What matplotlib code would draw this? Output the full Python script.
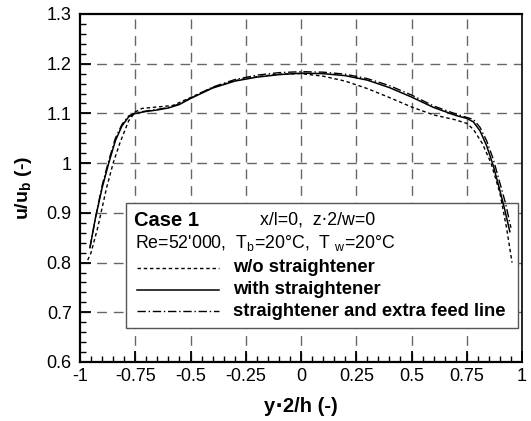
import matplotlib
matplotlib.use("Agg")
import matplotlib.pyplot as plt
from matplotlib.patches import Rectangle
from matplotlib.lines import Line2D
from matplotlib.ticker import MultipleLocator

plt.rcParams["font.family"] = ["Liberation Sans", "DejaVu Sans"]
plt.rcParams["mathtext.fontset"] = "custom"
plt.rcParams["mathtext.rm"] = "Liberation Sans"
plt.rcParams["mathtext.bf"] = "Liberation Sans:bold"

# w/o straightener (dotted)
x_wo = [-0.965, -0.95, -0.92, -0.88, -0.85, -0.82, -0.78, -0.75, -0.72, -0.65,
        -0.58, -0.5, -0.4, -0.3, -0.2, -0.1, 0.0, 0.1, 0.2, 0.3, 0.4, 0.5, 0.6,
        0.7, 0.75, 0.78, 0.82, 0.86, 0.9, 0.93, 0.955]
y_wo = [0.805, 0.82, 0.87, 0.95, 1.0, 1.04, 1.085, 1.103, 1.11, 1.113,
        1.116, 1.132, 1.152, 1.166, 1.174, 1.179, 1.180, 1.175, 1.165, 1.150,
        1.132, 1.113, 1.097, 1.087, 1.080, 1.068, 1.04, 1.0, 0.94, 0.87, 0.80]

# with straightener (solid)
x_with = [-0.955, -0.93, -0.9, -0.87, -0.84, -0.81, -0.78, -0.75, -0.7, -0.65,
          -0.6, -0.55, -0.5, -0.4, -0.3, -0.2, -0.1, 0.0, 0.1, 0.2, 0.3, 0.4,
          0.5, 0.6, 0.7, 0.75, 0.78, 0.81, 0.84, 0.87, 0.9, 0.92, 0.945]
y_with = [0.83, 0.89, 0.95, 1.0, 1.045, 1.075, 1.093, 1.100, 1.104, 1.107,
          1.111, 1.118, 1.130, 1.151, 1.165, 1.173, 1.178, 1.181, 1.180, 1.176,
          1.167, 1.152, 1.133, 1.112, 1.096, 1.090, 1.083, 1.065, 1.035, 0.995,
          0.945, 0.91, 0.862]

# straightener and extra feed line (dash-dot)
x_feed = [-0.955, -0.93, -0.9, -0.87, -0.84, -0.81, -0.78, -0.75, -0.7, -0.65,
          -0.6, -0.55, -0.5, -0.4, -0.3, -0.2, -0.1, 0.0, 0.1, 0.2, 0.3, 0.4,
          0.5, 0.6, 0.7, 0.75, 0.78, 0.81, 0.84, 0.87, 0.9, 0.925, 0.95]
y_feed = [0.83, 0.89, 0.955, 1.005, 1.05, 1.078, 1.095, 1.101, 1.105, 1.108,
          1.112, 1.119, 1.131, 1.153, 1.168, 1.177, 1.182, 1.184, 1.183, 1.179,
          1.170, 1.156, 1.137, 1.115, 1.099, 1.092, 1.088, 1.072, 1.045, 1.008,
          0.96, 0.92, 0.87]

labels = ["w/o straightener", "with straightener",
          "straightener and extra feed line"]

fig = plt.figure(figsize=(5.31, 4.21), dpi=100)
ax = fig.add_axes([80 / 531, 1 - 362 / 421, 442 / 531, 348 / 421])

ax.set_xlim(-1, 1)
ax.set_ylim(0.6, 1.3)

# grid
gkw = dict(color="#666666", lw=1.0, dashes=(7, 5), zorder=1)
for gx in [-0.75, -0.5, -0.25, 0, 0.25, 0.5, 0.75]:
    ax.axvline(gx, **gkw)
for gy in [0.7, 0.8, 0.9, 1.0, 1.1, 1.2]:
    ax.axhline(gy, **gkw)

# legend box
box = Rectangle((0.105, 0.097), 0.885, 0.36, transform=ax.transAxes,
                facecolor="white", edgecolor="#555555", lw=1.0, zorder=2)
ax.add_patch(box)

styles = [dict(color="black", lw=1.0, dashes=(2.5, 2)),
          dict(color="black", lw=1.1, ls="-"),
          dict(color="black", lw=1.0, dashes=(6, 2, 1, 2))]

ax.plot(x_wo, y_wo, zorder=3, **styles[0])
ax.plot(x_with, y_with, zorder=3, **styles[1])
ax.plot(x_feed, y_feed, zorder=3, **styles[2])


# legend content (axes coords)
def ax_x(px):
    return (px - 80) / 442


def ax_y(py):
    return (362 - py) / 348


ax.text(ax_x(134), ax_y(221), "Case 1", transform=ax.transAxes,
        fontsize=14.5, fontweight="bold", va="center", zorder=4)
ax.text(ax_x(260), ax_y(220), "x/l=0,  z\u22c52/w=0", transform=ax.transAxes,
        fontsize=12.8, va="center", zorder=4)
ax.text(ax_x(135), ax_y(243),
        r"Re=52'000,  T$_\mathregular{b}$=20°C,  T $_\mathregular{w}$=20°C",
        transform=ax.transAxes, fontsize=12.8, va="center", zorder=4)
for i, py in enumerate([268, 289.5, 311]):
    ax.add_line(Line2D([ax_x(137), ax_x(219)], [ax_y(py), ax_y(py)],
                       transform=ax.transAxes, zorder=4, **styles[i]))
    ax.text(ax_x(233), ax_y(py), labels[i], transform=ax.transAxes,
            fontsize=13.2, fontweight="bold", va="center", zorder=4)

# ticks
ax.xaxis.set_minor_locator(MultipleLocator(0.05))
ax.yaxis.set_minor_locator(MultipleLocator(0.02))
ax.tick_params(which="major", direction="in", length=8, width=1.3,
               labelsize=13, top=False, right=False)
ax.tick_params(which="minor", direction="in", length=4, width=1.0,
               top=False, right=False)
ax.tick_params(axis="x", pad=4)
ax.tick_params(axis="y", pad=6)

xt = [-1, -0.75, -0.5, -0.25, 0, 0.25, 0.5, 0.75, 1]
ax.set_xticks(xt)
ax.set_xticklabels(["-1", "-0.75", "-0.5", "-0.25", "0", "0.25", "0.5",
                    "0.75", "1"])
yt = [0.6, 0.7, 0.8, 0.9, 1.0, 1.1, 1.2, 1.3]
ax.set_yticks(yt)
ax.set_yticklabels(["0.6", "0.7", "0.8", "0.9", "1", "1.1", "1.2", "1.3"])

for s in ["left", "bottom", "top"]:
    ax.spines[s].set_linewidth(1.6)
ax.spines["right"].set_linewidth(1.2)

ax.set_xlabel("y\u22c52/h (-)", fontsize=14.5, fontweight="bold", labelpad=9)
ax.set_ylabel(r"u/u$_\mathbf{b}$ (-)", fontsize=14, fontweight="bold",
              labelpad=9)

fig.savefig("out.png", dpi=100)
